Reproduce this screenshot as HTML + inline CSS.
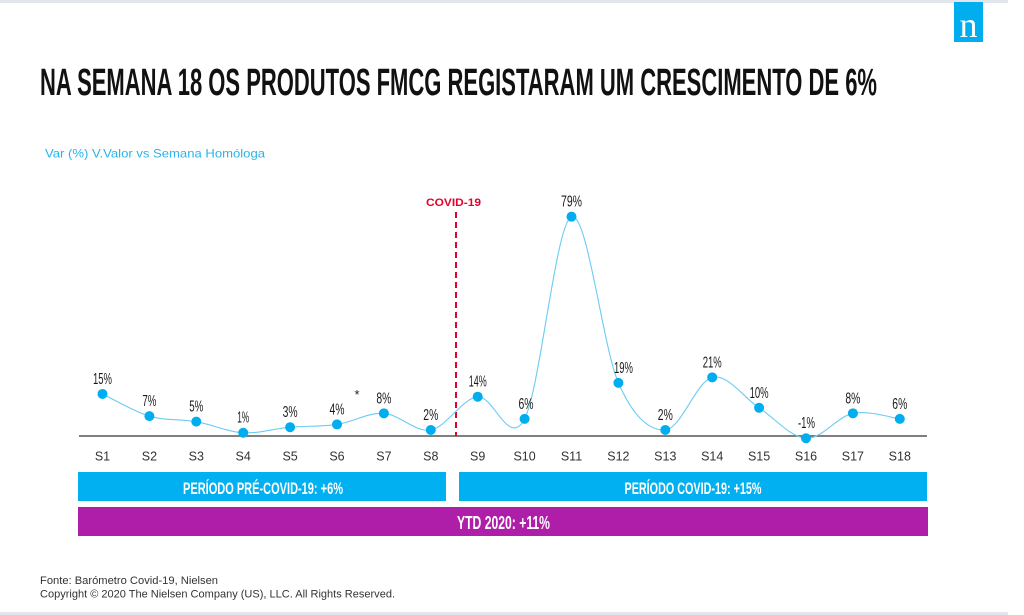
<!DOCTYPE html>
<html>
<head>
<meta charset="utf-8">
<style>
  html,body{margin:0;padding:0;background:#fff;}
  svg{display:block;}
  text{font-family:"Liberation Sans",sans-serif;}
</style>
</head>
<body>
<svg width="1024" height="615" viewBox="0 0 1024 615" xmlns="http://www.w3.org/2000/svg">
  <rect x="0" y="0" width="1024" height="615" fill="#fff"/>
  <!-- top / bottom gray bars -->
  <rect x="0" y="0" width="1008" height="3" fill="#e2e5e9"/>
  <rect x="0" y="612" width="1008" height="3" fill="#e2e5e9"/>

  <!-- logo -->
  <rect x="954" y="2" width="29" height="40" fill="#00aeef"/>
  <text x="968.5" y="37" text-anchor="middle" fill="#fff" font-size="36" style="font-family:'Liberation Serif',serif;">n</text>

  <!-- title -->
  <text x="40" y="95" font-size="38" font-weight="bold" fill="#111" textLength="837" lengthAdjust="spacingAndGlyphs">NA SEMANA 18 OS PRODUTOS FMCG REGISTARAM UM CRESCIMENTO DE 6%</text>

  <!-- subtitle -->
  <text x="45" y="157.5" font-size="12" fill="#29b3ea" textLength="220" lengthAdjust="spacingAndGlyphs">Var (%) V.Valor vs Semana Homóloga</text>

  <!-- covid line -->
  <text x="426" y="206" font-size="11" font-weight="bold" fill="#e4002b" textLength="55" lengthAdjust="spacingAndGlyphs">COVID-19</text>
  <line x1="456" y1="212" x2="456" y2="436" stroke="#e4002b" stroke-width="2" stroke-dasharray="6,4"/>

  <!-- axis -->
  <line x1="79" y1="436" x2="927" y2="436" stroke="#555" stroke-width="1.5"/>

  <!-- curve -->
  <path fill="none" stroke="#6ccbf2" stroke-width="1.1" d="M102.5,393.95 C110.32,397.64 133.77,411.48 149.4,416.1 C165.03,420.72 180.67,418.88 196.3,421.65 C211.93,424.42 227.57,431.81 243.2,432.73 C258.83,433.65 274.47,428.58 290.1,427.19 C305.73,425.8 321.37,426.73 337.0,424.42 C352.63,422.11 368.27,412.42 383.9,413.34 C399.53,414.26 415.17,432.73 430.8,429.96 C446.43,427.19 462.07,398.57 477.7,396.72 C493.33,394.87 508.97,448.89 524.6,418.88 C540.23,388.87 555.87,222.67 571.5,216.67 C587.13,210.67 602.77,347.32 618.4,382.87 C634.03,418.42 649.67,430.88 665.3,429.96 C680.93,429.04 696.57,381.02 712.2,377.33 C727.83,373.64 743.47,397.64 759.1,407.8 C774.73,417.96 790.37,437.35 806.0,438.27 C821.63,439.19 837.27,416.57 852.9,413.34 C868.53,410.11 891.98,417.96 899.8,418.88"/>

  <!-- dots -->
  <g fill="#00aeef">
    <circle cx="102.5" cy="393.95" r="5"/>
    <circle cx="149.4" cy="416.1" r="5"/>
    <circle cx="196.3" cy="421.65" r="5"/>
    <circle cx="243.2" cy="432.73" r="5"/>
    <circle cx="290.1" cy="427.19" r="5"/>
    <circle cx="337.0" cy="424.42" r="5"/>
    <circle cx="383.9" cy="413.34" r="5"/>
    <circle cx="430.8" cy="429.96" r="5"/>
    <circle cx="477.7" cy="396.72" r="5"/>
    <circle cx="524.6" cy="418.88" r="5"/>
    <circle cx="571.5" cy="216.67" r="5"/>
    <circle cx="618.4" cy="382.87" r="5"/>
    <circle cx="665.3" cy="429.96" r="5"/>
    <circle cx="712.2" cy="377.33" r="5"/>
    <circle cx="759.1" cy="407.8" r="5"/>
    <circle cx="806.0" cy="438.27" r="5"/>
    <circle cx="852.9" cy="413.34" r="5"/>
    <circle cx="899.8" cy="418.88" r="5"/>
  </g>

  <!-- data labels -->
  <g font-size="16" fill="#1a1a1a" text-anchor="middle">
    <text x="102.5" y="384" textLength="19" lengthAdjust="spacingAndGlyphs">15%</text>
    <text x="149.4" y="406" textLength="14" lengthAdjust="spacingAndGlyphs">7%</text>
    <text x="196.3" y="411.5" textLength="14" lengthAdjust="spacingAndGlyphs">5%</text>
    <text x="243.2" y="422.5" textLength="12" lengthAdjust="spacingAndGlyphs">1%</text>
    <text x="290.1" y="417" textLength="15" lengthAdjust="spacingAndGlyphs">3%</text>
    <text x="337.0" y="414.5" textLength="15" lengthAdjust="spacingAndGlyphs">4%</text>
    <text x="383.9" y="403.5" textLength="15" lengthAdjust="spacingAndGlyphs">8%</text>
    <text x="430.8" y="420" textLength="15" lengthAdjust="spacingAndGlyphs">2%</text>
    <text x="477.7" y="386.7" textLength="18" lengthAdjust="spacingAndGlyphs">14%</text>
    <text x="526" y="409" textLength="15" lengthAdjust="spacingAndGlyphs">6%</text>
    <text x="571.5" y="206.5" textLength="21" lengthAdjust="spacingAndGlyphs">79%</text>
    <text x="623.5" y="373" textLength="19" lengthAdjust="spacingAndGlyphs">19%</text>
    <text x="665.3" y="420" textLength="15" lengthAdjust="spacingAndGlyphs">2%</text>
    <text x="712.2" y="367.3" textLength="19" lengthAdjust="spacingAndGlyphs">21%</text>
    <text x="759.1" y="398" textLength="19" lengthAdjust="spacingAndGlyphs">10%</text>
    <text x="806.5" y="428" textLength="17" lengthAdjust="spacingAndGlyphs">-1%</text>
    <text x="852.9" y="403.5" textLength="15" lengthAdjust="spacingAndGlyphs">8%</text>
    <text x="899.8" y="409" textLength="15" lengthAdjust="spacingAndGlyphs">6%</text>
  </g>
  <text x="357" y="399" font-size="13" fill="#222" text-anchor="middle">*</text>

  <!-- week labels -->
  <g font-size="12.5" fill="#333" text-anchor="middle">
    <text x="102.5" y="460.5">S1</text>
    <text x="149.4" y="460.5">S2</text>
    <text x="196.3" y="460.5">S3</text>
    <text x="243.2" y="460.5">S4</text>
    <text x="290.1" y="460.5">S5</text>
    <text x="337.0" y="460.5">S6</text>
    <text x="383.9" y="460.5">S7</text>
    <text x="430.8" y="460.5">S8</text>
    <text x="477.7" y="460.5">S9</text>
    <text x="524.6" y="460.5">S10</text>
    <text x="571.5" y="460.5">S11</text>
    <text x="618.4" y="460.5">S12</text>
    <text x="665.3" y="460.5">S13</text>
    <text x="712.2" y="460.5">S14</text>
    <text x="759.1" y="460.5">S15</text>
    <text x="806.0" y="460.5">S16</text>
    <text x="852.9" y="460.5">S17</text>
    <text x="899.8" y="460.5">S18</text>
  </g>

  <!-- period bars -->
  <rect x="78" y="472" width="368" height="29" fill="#00b0f0"/>
  <rect x="459" y="472" width="468" height="29" fill="#00b0f0"/>
  <rect x="78" y="507" width="850" height="29" fill="#ae1ea9"/>
  <g fill="#fff" text-anchor="middle" font-size="17" font-weight="bold">
    <text x="263" y="494" textLength="160" lengthAdjust="spacingAndGlyphs">PERÍODO PRÉ-COVID-19: +6%</text>
    <text x="693" y="494" textLength="137" lengthAdjust="spacingAndGlyphs">PERÍODO COVID-19: +15%</text>
    <text x="503.5" y="529" font-size="18" textLength="93" lengthAdjust="spacingAndGlyphs">YTD 2020: +11%</text>
  </g>

  <!-- footer -->
  <text x="40" y="584" font-size="11" fill="#333" textLength="178" lengthAdjust="spacingAndGlyphs">Fonte: Barómetro Covid-19, Nielsen</text>
  <text x="40" y="597.5" font-size="11" fill="#333" textLength="355" lengthAdjust="spacingAndGlyphs">Copyright © 2020 The Nielsen Company (US), LLC. All Rights Reserved.</text>
</svg>
</body>
</html>
